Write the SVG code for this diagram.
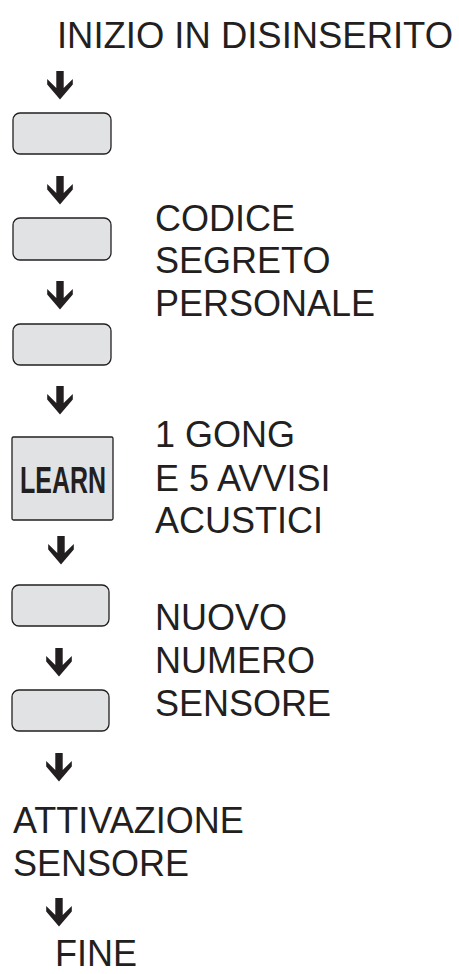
<svg xmlns="http://www.w3.org/2000/svg" width="459" height="974" viewBox="0 0 459 974">
<defs>
<style>
.t{font-family:"Liberation Sans",Arial,Helvetica,sans-serif;font-size:36px;fill:#231f20}
.k{fill:#e1e2e4;stroke:#231f20;stroke-width:1.3}
.a{fill:#231f20}
.lb{font-family:"Liberation Sans Narrow","Liberation Sans",Arial,sans-serif;font-size:36px;font-weight:bold;fill:#231f20}
</style>
<path id="arr" d="M-3.7,0 H3.7 V17 L12.8,8 V13.5 L0,28.5 L-12.8,13.5 V8 L-3.7,17 Z"/>
</defs>
<rect width="459" height="974" fill="#ffffff"/>
<g id="start"><text class="t" x="57" y="48" textLength="396" lengthAdjust="spacingAndGlyphs">INIZIO IN DISINSERITO</text></g>
<g id="key1"><rect class="k" x="13" y="113" width="98" height="41" rx="7"/></g>
<g id="key2"><rect class="k" x="13" y="218" width="98" height="42" rx="7"/></g>
<g id="key3"><rect class="k" x="13" y="324" width="98" height="41" rx="7"/></g>
<g id="label-codice"><text class="t" x="155" y="231">CODICE</text><text class="t" x="155" y="273">SEGRETO</text><text class="t" x="155" y="316">PERSONALE</text></g>
<g id="learn"><rect class="k" x="12" y="437" width="101" height="83" rx="1.5"/><text class="lb" x="20" y="493" textLength="86" lengthAdjust="spacingAndGlyphs">LEARN</text></g>
<g id="label-gong"><text class="t" x="155" y="447">1 GONG</text><text class="t" x="155" y="491">E 5 AVVISI</text><text class="t" x="155" y="533">ACUSTICI</text></g>
<g id="key5"><rect class="k" x="12" y="585" width="97" height="41" rx="7"/></g>
<g id="key6"><rect class="k" x="12" y="690" width="97" height="41" rx="7"/></g>
<g id="label-nuovo"><text class="t" x="155" y="630">NUOVO</text><text class="t" x="155" y="673">NUMERO</text><text class="t" x="155" y="716">SENSORE</text></g>
<g id="attivazione"><text class="t" x="13" y="833">ATTIVAZIONE</text><text class="t" x="13" y="876">SENSORE</text></g>
<g id="fine"><text class="t" x="55" y="966">FINE</text></g>
<g id="connectors" class="a">
<use href="#arr" x="60" y="71"/>
<use href="#arr" x="60" y="176"/>
<use href="#arr" x="60" y="281"/>
<use href="#arr" x="60" y="386"/>
<use href="#arr" x="61" y="536"/>
<use href="#arr" x="59" y="648"/>
<use href="#arr" x="59" y="753"/>
<use href="#arr" x="59" y="898"/>
</g>
</svg>
